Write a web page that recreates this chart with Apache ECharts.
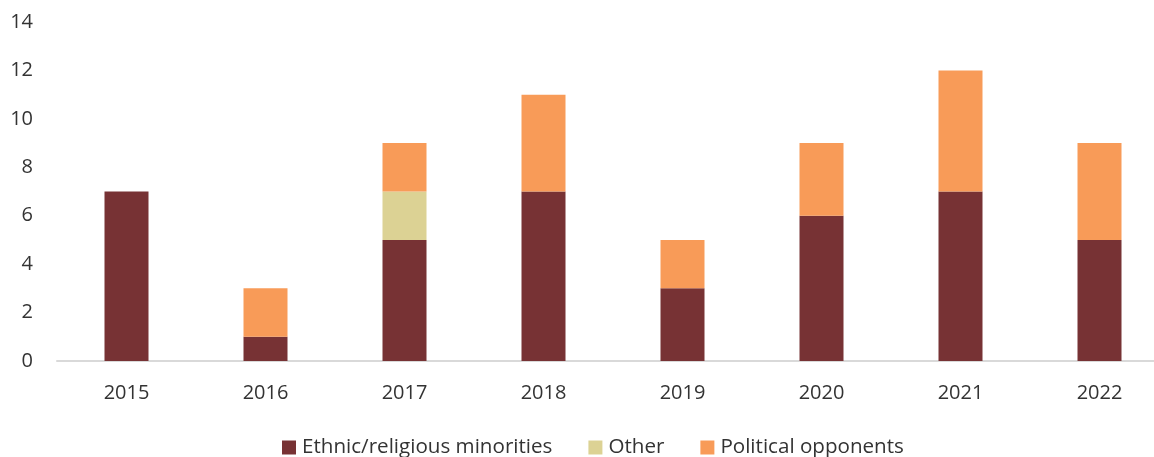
<!DOCTYPE html>
<html>
<head>
<meta charset="utf-8">
<script src="https://cdn.jsdelivr.net/npm/echarts@6/dist/echarts.min.js"></script>
<style>
  html, body { margin: 0; padding: 0; background: #ffffff; overflow: hidden; width: 1154px; height: 457px; }
  /* plot area runs slightly past the right edge of the page */
  #chart { width: 1169px; height: 457px; }
</style>
</head>
<body>
<div id="chart"></div>
<script>
// Categories (years)
const years = ['2015', '2016', '2017', '2018', '2019', '2020', '2021', '2022'];

// Stacked series values
const ethnicReligious = [7, 1, 5, 7, 3, 6, 7, 5];
const other = [0, 0, 2, 0, 0, 0, 0, 0];
const politicalOpponents = [0, 2, 2, 4, 2, 3, 5, 4];

// Series names
const seriesNames = ['Ethnic/religious minorities', 'Other', 'Political opponents'];

const fontFamily = '"Open Sans", "Noto Sans", sans-serif';
const textColor = '#333333';

const chart = echarts.init(document.getElementById('chart'), null, { renderer: 'canvas' });

function barSeries(name, data, color) {
  return {
    name: name,
    type: 'bar',
    stack: 'total',
    data: data,
    barWidth: 44,
    itemStyle: { color: color },
    emphasis: { disabled: true }
  };
}

chart.setOption({
  animation: false,
  grid: { left: 57, top: 22, right: 0, height: 339, containLabel: false },
  legend: {
    top: 437,
    left: 282,
    padding: 0,
    itemWidth: 14,
    itemHeight: 14,
    itemGap: 36,
    icon: 'rect',
    textStyle: { fontFamily: fontFamily, fontSize: 20.6, color: textColor, padding: [0, 0, 0, 1] },
    data: seriesNames
  },
  xAxis: {
    type: 'category',
    data: years,
    axisLine: { show: true, lineStyle: { color: '#d9d9d9', width: 2 } },
    axisTick: { show: false },
    axisLabel: { fontFamily: fontFamily, fontSize: 20, color: textColor, margin: 22 }
  },
  yAxis: {
    type: 'value',
    min: 0,
    max: 14,
    interval: 2,
    splitLine: { show: false },
    axisLine: { show: false },
    axisTick: { show: false },
    axisLabel: { fontFamily: fontFamily, fontSize: 20, color: textColor, margin: 24 }
  },
  series: [
    barSeries(seriesNames[0], ethnicReligious, '#773234'),
    barSeries(seriesNames[1], other, '#dcd294'),
    barSeries(seriesNames[2], politicalOpponents, '#f89b58')
  ]
});
</script>
</body>
</html>
